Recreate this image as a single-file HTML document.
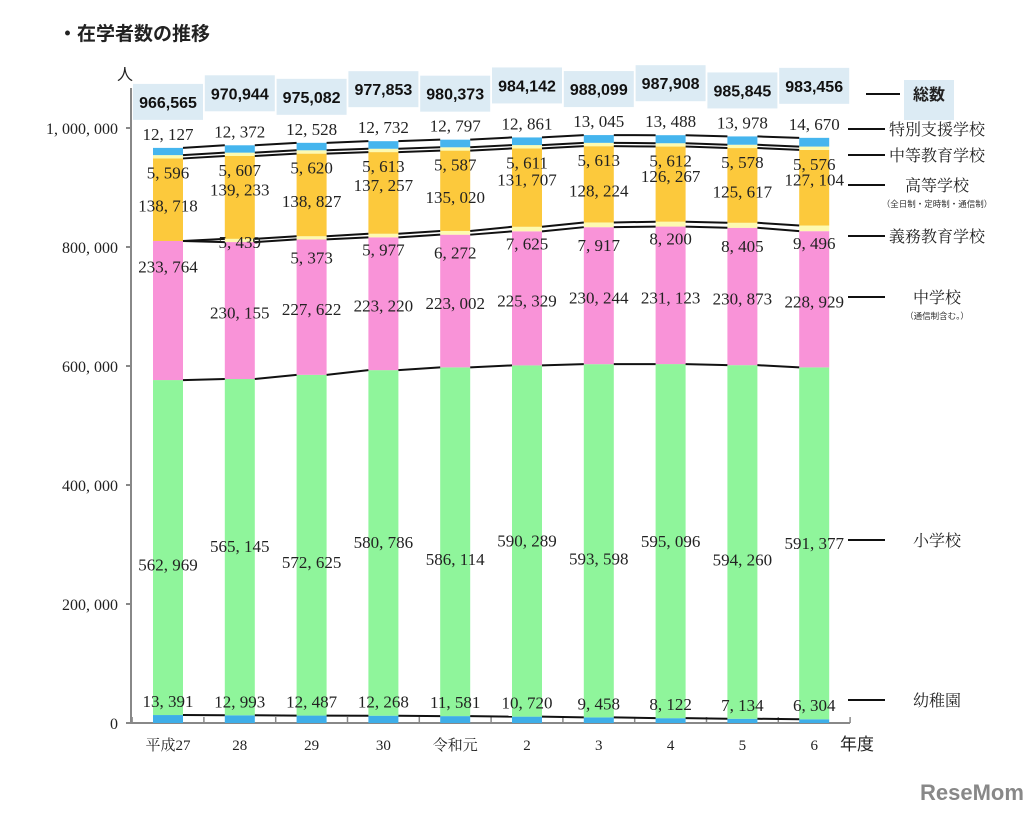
<!DOCTYPE html>
<html><head><meta charset="utf-8"><style>
html,body{margin:0;padding:0;background:#fff;}
svg text{font-family:"Liberation Serif","Noto Serif CJK SC",serif;}
.s{font-family:"Liberation Sans","Noto Sans CJK JP",sans-serif;}
</style></head><body>
<svg id="c" width="1029" height="817" xmlns="http://www.w3.org/2000/svg">
<text class="s" x="58" y="40" font-size="19" font-weight="bold" fill="#222">・在学者数の推移</text>
<text class="s" x="117" y="80" font-size="16" fill="#222">人</text>
<text class="s" x="840" y="750" font-size="17" fill="#222">年度</text>
<g id="g"></g>
<text class="s" x="920" y="800" font-size="22" font-weight="bold" fill="#888">ReseMom</text>
</svg>
<script>
const years=["平成27","28","29","30","令和元","2","3","4","5","6"];
const kinder=[13391,12993,12487,12268,11581,10720,9458,8122,7134,6304];
const elem=[562969,565145,572625,580786,586114,590289,593598,595096,594260,591377];
const junior=[233764,230155,227622,223220,223002,225329,230244,231123,230873,228929];
const compulsory=[0,5439,5373,5977,6272,7625,7917,8200,8405,9496];
const high=[138718,139233,138827,137257,135020,131707,128224,126267,125617,127104];
const secondary=[5596,5607,5620,5613,5587,5611,5613,5612,5578,5576];
const special=[12127,12372,12528,12732,12797,12861,13045,13488,13978,14670];
const totals=[966565,970944,975082,977853,980373,984142,988099,987908,985845,983456];
const yTicks=[0,200000,400000,600000,800000,1000000];
const yTickLabels=["0","200, 000","400, 000","600, 000","800, 000","1, 000, 000"];

const NS="http://www.w3.org/2000/svg";
const g=document.getElementById('g');
const y0=723,pxPer=595/1000000;
function y(v){return y0-v*pxPer;}
function x(i){return 168+i*71.8;}
const bw=30;
function el(t,a,p){const e=document.createElementNS(NS,t);for(const k in a)e.setAttribute(k,a[k]);(p||g).appendChild(e);return e;}
function fmt(v){return v.toLocaleString('en-US').replace(/,/g,', ');}

const ax=el('line',{x1:131,y1:y0,x2:850,y2:y0,stroke:'#888','stroke-width':2});


const ay=el('line',{x1:131,y1:y(1000000)-40,x2:131,y2:y0,stroke:'#888','stroke-width':2});


yTicks.forEach((t,i)=>{
  el('line',{x1:126,y1:y(t),x2:131,y2:y(t),stroke:'#888','stroke-width':2});
  const tx=el('text',{x:118,y:y(t)+6,'font-size':16,'text-anchor':'end',fill:'#222'});
  tx.textContent=yTickLabels[i];
  
  
});
for(let i=0;i<=years.length;i++){const tx=x(i)-35.9;el('line',{x1:tx,y1:y0,x2:tx,y2:y0-6,stroke:'#888','stroke-width':1.5});}

const series=[kinder,elem,junior,compulsory,high,secondary,special];
const colors=['#3eaee8','#8ff59b','#f993d8','#fdfab0','#fcc93c','#fdfab0','#45b5ee'];
const names=['kindergarten','elementary','junior-high','compulsory','high-school','secondary','special-needs'];

years.forEach((yr,i)=>{
  let cum=0;
  series.forEach((s,k)=>{
    const r=el('rect',{x:x(i)-bw/2,y:y(cum+s[i]),width:bw,height:s[i]*pxPer,fill:colors[k]});
    
    
    cum+=s[i];
  });
  const xl=el('text',{x:x(i),y:750,'font-size':15,'text-anchor':'middle',fill:'#222'});
  xl.textContent=yr;
  
  
});

const cums=[];
for(let k=0;k<series.length;k++){cums.push(years.map((_,i)=>series.slice(0,k+1).reduce((a,s)=>a+s[i],0)));}
[0,1,2,3,4,5,6].forEach(k=>{
  for(let i=0;i<years.length-1;i++){
    const l=el('line',{x1:x(i)+bw/2,y1:y(cums[k][i]),x2:x(i+1)-bw/2,y2:y(cums[k][i+1]),stroke:'#111','stroke-width':2});
    
    
  }
});

function lab(i,v,yy,name){const t=el('text',{x:x(i),y:yy,'font-size':17,'text-anchor':'middle',fill:'#222'});t.textContent=fmt(v);}
years.forEach((_,i)=>{
  const even=i%2===0;
  lab(i,kinder[i],y(cums[0][i])-8,'label-kindergarten');
  lab(i,elem[i],y(cums[0][i]+elem[i]*0.45)+(even?6:-12),'label-elementary');
  lab(i,junior[i],y(cums[1][i]+junior[i]*0.5)+(i==0?-38:8),'label-junior-high');
  if(compulsory[i]>0)lab(i,compulsory[i],y(cums[2][i])+(i==1?6:18)+(even?6:0),'label-compulsory');
  lab(i,high[i],y(cums[3][i]+high[i]*0.5)+(even?12:-2),'label-high-school');
  lab(i,secondary[i],y(cums[4][i])+20,'label-secondary');
  lab(i,special[i],y(totals[i])-8,'label-special-needs');
  const ty=y(totals[i])-45+(i%2?-3:3);
  const b=el('rect',{x:x(i)-35,y:ty-22,width:70,height:36,fill:'#dcebf4'});
  
  
  const t=el('text',{x:x(i),y:ty+2,'font-size':16,'font-weight':'bold','text-anchor':'middle',fill:'#111',class:'s'});
  t.textContent=totals[i].toLocaleString('en-US');
  
  
});

const leg=[["総数",100,''],["特別支援学校",135,''],["中等教育学校",161,''],["高等学校",191,'（全日制・定時制・通信制）'],["義務教育学校",242,''],["中学校",303,'（通信制含む。）'],["小学校",546,''],["幼稚園",706,'']];
leg.forEach((d,j)=>{
  const l=el('line',{x1:j==0?866:848,y1:d[1]-6,x2:j==0?900:885,y2:d[1]-6,stroke:'#111','stroke-width':2});
  
  
  if(j==0){const b=el('rect',{x:904,y:80,width:50,height:40,fill:'#dcebf4'});}
  const t=el('text',{x:j==0?929:937,y:d[1],'font-size':16,'font-weight':j==0?'bold':'normal','text-anchor':'middle',fill:'#222',class:j==0?'s':''});
  t.textContent=d[0];
  
  
  if(d[2]){const n=el('text',{x:937,y:d[1]+16,'font-size':8.5,'text-anchor':'middle',fill:'#333',class:'s'});n.textContent=d[2];}
});
</script>
</body></html>
